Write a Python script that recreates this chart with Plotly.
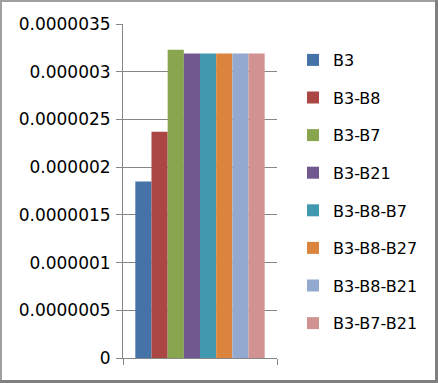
import plotly.graph_objects as go

series_names = ["B3", "B3-B8", "B3-B7", "B3-B21", "B3-B8-B7", "B3-B8-B27", "B3-B8-B21", "B3-B7-B21"]
series_values = [1.85e-6, 2.37e-6, 3.23e-6, 3.19e-6, 3.19e-6, 3.19e-6, 3.19e-6, 3.19e-6]
series_colors = ["#4572A7", "#AA4643", "#89A54E", "#71588F", "#4198AF", "#DB843D", "#93A9CF", "#D19392"]
y_ticks = [0, 0.0000005, 0.000001, 0.0000015, 0.000002, 0.0000025, 0.000003, 0.0000035]
y_tick_labels = ["0", "0.0000005", "0.000001", "0.0000015", "0.000002", "0.0000025", "0.000003", "0.0000035"]

W, H = 438, 383
L, R, T, B = 123, 161, 24, 25
PW, PH = W - L - R, H - T - B

def px(x):
    return (x - L) / PW

def py(y):
    return (H - B - y) / PH

fig = go.Figure()
for i, (name, val, col) in enumerate(zip(series_names, series_values, series_colors)):
    fig.add_trace(go.Bar(x=[0], y=[val], name=name, marker=dict(color=col, line=dict(width=0)),
                         legendgroup=f"g{i}"))

grid = "#868686"
fig.update_layout(
    width=W, height=H,
    margin=dict(l=L, r=R, t=T, b=B),
    paper_bgcolor="white", plot_bgcolor="white",
    barmode="group", bargap=0.16, bargroupgap=0,
    font=dict(family="DejaVu Sans", size=16, color="#000000"),
    showlegend=True,
    legend=dict(x=px(293), xanchor="left", y=py(43), yanchor="top",
                tracegroupgap=13.8, font=dict(size=16), bgcolor="rgba(0,0,0,0)"),
    xaxis=dict(range=[-0.5, 0.5], tickvals=[-0.5, 0.5], ticktext=["", ""], showticklabels=False,
               ticks="outside", ticklen=6, tickcolor=grid, showgrid=False, zeroline=False,
               showline=True, linecolor=grid, linewidth=1, fixedrange=True),
    yaxis=dict(range=[0, 0.0000035], tickvals=y_ticks, ticktext=y_tick_labels,
               ticks="outside", ticklen=6, tickcolor=grid, showgrid=True, gridcolor=grid, gridwidth=1,
               zeroline=False, showline=True, linecolor=grid, linewidth=1, ticklabelstandoff=2,
               tickfont=dict(size=17)),
)

# chart border
fig.add_shape(type="line", xref="paper", yref="paper", x0=px(1), x1=px(1), y0=py(0), y1=py(381),
              line=dict(color="#A0A0A0", width=2))
fig.add_shape(type="line", xref="paper", yref="paper", x0=px(0), x1=px(436), y0=py(1), y1=py(1),
              line=dict(color="#A0A0A0", width=2))
fig.add_shape(type="line", xref="paper", yref="paper", x0=px(436.5), x1=px(436.5), y0=py(0), y1=py(383),
              line=dict(color="#808080", width=3))
fig.add_shape(type="line", xref="paper", yref="paper", x0=px(0), x1=px(438), y0=py(381.5), y1=py(381.5),
              line=dict(color="#808080", width=3))

fig.write_html("out.html", config={"displayModeBar": False},
               post_script="document.body.style.margin='0';document.body.style.overflow='hidden';")
